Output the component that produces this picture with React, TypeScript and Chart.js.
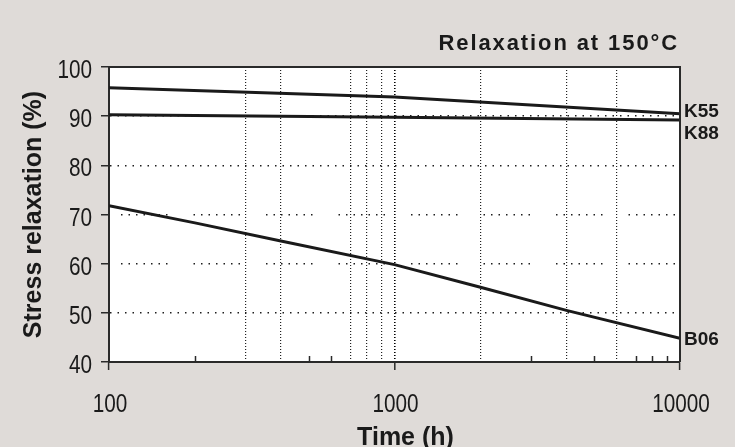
import React, { useEffect, useRef } from "react";
import { Chart, registerables } from "chart.js";

Chart.register(...registerables);

// ---- data ----
const seriesNames = ["K55", "K88", "B06"];
const k55Hours = [100, 1000, 10000];
const k55Values = [95.8, 93.9, 90.5];
const k88Hours = [100, 1000, 10000];
const k88Values = [90.3, 89.8, 89.2];
const b06Hours = [100, 200, 400, 1000, 2000, 4000, 10000];
const b06Values = [71.8, 68.3, 64.6, 59.8, 55.2, 50.5, 44.8];

const xLabelTicks = [100, 1000, 10000];
const xGridTicks = [300, 400, 700, 800, 900, 1000, 2000, 4000, 6000];
const xMinorTicks = [200, 500, 600, 3000, 5000, 7000, 8000, 9000];
const yTicks = [40, 50, 60, 70, 80, 90, 100];
const yGridTicks = [50, 60, 70, 80, 90];
const yBrokenGrid = [60, 70];

const titleText = "Relaxation at 150\u00B0C";
const xTitle = "Time (h)";
const yTitle = "Stress relaxation (%)";

const INK = "#1a1a1a";
const AXIS = "#2a2a2a";
const SANS = "'Liberation Sans', Arial, Helvetica, sans-serif";

const toPts = (xs: number[], ys: number[]) => xs.map((x, i) => ({ x, y: ys[i] }));

const condensedText = (
  ctx: CanvasRenderingContext2D,
  text: string,
  x: number,
  y: number,
  align: CanvasTextAlign
) => {
  ctx.save();
  ctx.translate(x, y);
  ctx.scale(0.83, 1);
  ctx.textAlign = align;
  ctx.textBaseline = "alphabetic";
  ctx.fillText(text, 0, 0);
  ctx.restore();
};

const decorPlugin = {
  id: "decor",
  beforeDraw(chart: any) {
    const { ctx, chartArea: a } = chart;
    ctx.save();
    ctx.fillStyle = "#ffffff";
    ctx.fillRect(a.left, a.top, a.right - a.left, a.bottom - a.top);
    ctx.restore();
  },
  afterDraw(chart: any) {
    const { ctx, chartArea: a } = chart;
    const xs = chart.scales.x;
    const ys = chart.scales.y;
    ctx.save();
    // frame top and right
    ctx.strokeStyle = AXIS;
    ctx.lineWidth = 2;
    ctx.beginPath();
    ctx.moveTo(a.left, a.top);
    ctx.lineTo(a.right, a.top);
    ctx.lineTo(a.right, a.bottom);
    ctx.stroke();
    // minor inner ticks on the time axis
    ctx.lineWidth = 1.5;
    ctx.beginPath();
    xMinorTicks.forEach((v) => {
      const px = Math.round(xs.getPixelForValue(v)) + 0.5;
      ctx.moveTo(px, a.bottom);
      ctx.lineTo(px, a.bottom - 6);
    });
    ctx.stroke();

    ctx.fillStyle = INK;
    // tick labels (condensed face)
    ctx.font = `25px ${SANS}`;
    xLabelTicks.forEach((v) => {
      condensedText(ctx, String(v), xs.getPixelForValue(v) + 1, a.bottom + 50, "center");
    });
    yTicks.forEach((v) => {
      condensedText(ctx, String(v), a.left - 17, ys.getPixelForValue(v) + 11, "right");
    });

    // axis titles
    ctx.font = `bold 25px ${SANS}`;
    ctx.textAlign = "center";
    ctx.textBaseline = "alphabetic";
    ctx.fillText(xTitle, (a.left + a.right) / 2 + 11, a.bottom + 83);
    ctx.save();
    ctx.translate(41, (a.top + a.bottom) / 2);
    ctx.rotate(-Math.PI / 2);
    ctx.fillText(yTitle, 0, 0);
    ctx.restore();

    // chart title
    ctx.font = `bold 22px ${SANS}`;
    (ctx as any).letterSpacing = "1.9px";
    ctx.textAlign = "right";
    ctx.fillText(titleText, a.right - 1, 50);
    (ctx as any).letterSpacing = "0px";

    // series labels
    ctx.font = `bold 19px ${SANS}`;
    ctx.textAlign = "left";
    ctx.textBaseline = "middle";
    const ends = [k55Values, k88Values, b06Values].map((arr) => arr[arr.length - 1]);
    const offs = [-1.5, 14, 1.5];
    seriesNames.forEach((name, i) => {
      ctx.fillText(name, a.right + 4, ys.getPixelForValue(ends[i]) + offs[i]);
    });
    ctx.restore();
  },
};

export default function App() {
  const ref = useRef<HTMLCanvasElement>(null);
  useEffect(() => {
    if (!ref.current) return;
    const lineDs = (label: string, data: any[]) => ({
      label,
      data,
      borderColor: INK,
      borderWidth: 3,
      pointRadius: 0,
      tension: 0,
      fill: false,
    });
    const chart = new Chart(ref.current, {
      type: "line",
      data: {
        datasets: [
          lineDs(seriesNames[0], toPts(k55Hours, k55Values)),
          lineDs(seriesNames[1], toPts(k88Hours, k88Values)),
          lineDs(seriesNames[2], toPts(b06Hours, b06Values)),
        ],
      },
      options: {
        animation: false,
        responsive: false,
        devicePixelRatio: 1,
        layout: { padding: { left: 0, right: 55, top: 67, bottom: 0 } },
        plugins: { legend: { display: false }, tooltip: { enabled: false }, title: { display: false } },
        scales: {
          x: {
            type: "logarithmic",
            min: 100,
            max: 10000,
            afterBuildTicks: (s: any) => {
              const vals = Array.from(new Set([...xLabelTicks, ...xGridTicks])).sort((p, q) => p - q);
              s.ticks = vals.map((v) => ({ value: v }));
            },
            afterFit: (s: any) => {
              s.height = 85;
            },
            ticks: { display: false, autoSkip: false, maxRotation: 0 },
            grid: {
              color: (c: any) =>
                c.tick && xGridTicks.includes(c.tick.value)
                  ? c.tick.value === 1000
                    ? "#000000"
                    : "#222222"
                  : "rgba(0,0,0,0)",
              lineWidth: (c: any) => (c.tick && c.tick.value === 1000 ? 1.6 : 1.2),
              tickBorderDash: [],
              tickColor: (c: any) =>
                c.tick && xLabelTicks.includes(c.tick.value) ? AXIS : "rgba(0,0,0,0)",
              tickLength: 8,
              tickWidth: 1.5,
            },
            border: { color: AXIS, width: 2, dash: [1, 2] },
          },
          y: {
            min: 40,
            max: 100,
            afterBuildTicks: (s: any) => {
              s.ticks = yTicks.map((v) => ({ value: v }));
            },
            afterFit: (s: any) => {
              s.width = 109;
            },
            ticks: { display: false },
            grid: {
              color: (c: any) =>
                c.tick && yGridTicks.includes(c.tick.value) ? "#1e1e1e" : "rgba(0,0,0,0)",
              lineWidth: 1.5,
              tickBorderDash: [],
              tickColor: AXIS,
              tickLength: 8,
              tickWidth: 1.5,
            },
            border: {
              color: AXIS,
              width: 2,
              dash: (c: any) =>
                c.tick && yBrokenGrid.includes(c.tick.value)
                  ? [1.5, 6, 1.5, 6, 1.5, 6, 1.5, 6, 1.5, 6, 1.5, 6, 1.5, 26]
                  : [1.5, 6],
              dashOffset: (c: any) => (c.tick && yBrokenGrid.includes(c.tick.value) ? 61.5 : 0),
            },
          },
        },
      },
      plugins: [decorPlugin],
    } as any);
    return () => chart.destroy();
  }, []);
  return (
    <div
      style={{
        position: "fixed",
        left: 0,
        top: 0,
        width: 735,
        height: 447,
        background: "#dfdbd8",
      }}
    >
      <canvas ref={ref} width={735} height={447} style={{ display: "block" }} />
    </div>
  );
}
